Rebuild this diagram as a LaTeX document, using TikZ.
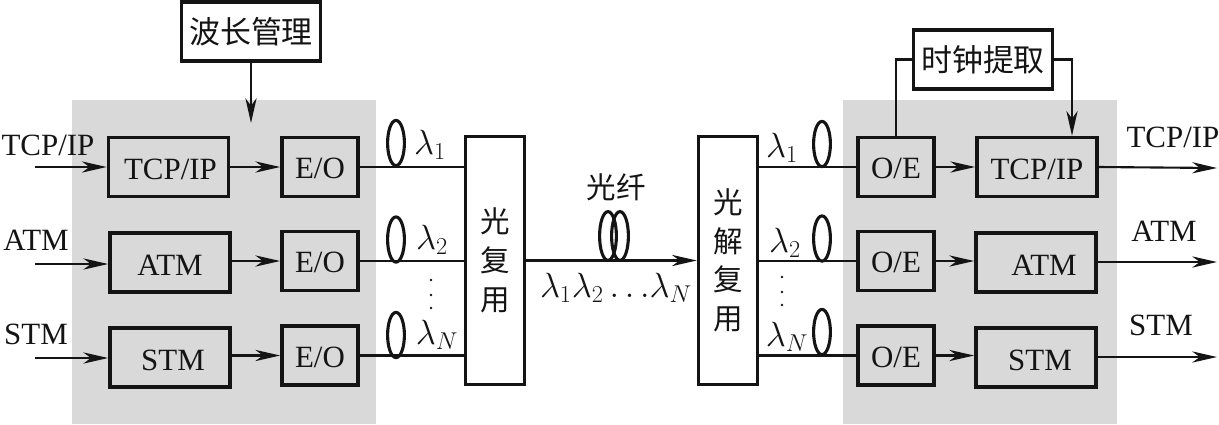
\documentclass[tikz,border=0pt]{standalone}
\usepackage{fontspec}
\setmainfont{Liberation Serif}
\newfontfamily\cjk{Noto Sans CJK SC}
\usetikzlibrary{arrows.meta, positioning, shapes.geometric}
\definecolor{panel}{RGB}{217, 217, 217}
\definecolor{inkline}{RGB}{20, 20, 20}

\begin{document}
\begin{tikzpicture}[x=0.025cm, y=-0.025cm, >={Stealth[length=0.62cm, width=0.28cm, inset=0.19cm]}, color=inkline,
  bigbox/.style={draw=inkline, line width=2.6pt, minimum width=3cm, minimum height=1.47cm, inner sep=0pt, text height=18pt, text depth=0pt, font=\fontsize{22}{26}\selectfont},
  convbox/.style={draw=inkline, line width=2.6pt, minimum width=1.9cm, minimum height=1.47cm, inner sep=0pt, text height=17pt, text depth=0pt, font=\fontsize{22}{26}\selectfont},
  ctrlbox/.style={draw=inkline, line width=2.6pt, fill=white, minimum width=3.47cm, minimum height=1.47cm, inner sep=0pt, font=\fontsize{22}{26}\selectfont\cjk},
  muxbox/.style={draw=inkline, line width=2.6pt, fill=white, minimum width=1.47cm, minimum height=6.2cm, inner sep=0pt, align=center, font=\fontsize{21}{27.5}\selectfont\cjk},
  coil/.style={draw=inkline, ellipse, line width=2.2pt, minimum width=0.42cm, minimum height=1.13cm, inner sep=0pt},
  sig/.style={->, line width=1.5pt},
  wire/.style={line width=1.5pt},
  tag/.style={inner sep=0pt, font=\fontsize{22}{26}\selectfont},
  wavelen/.style={inner sep=0pt, font=\fontsize{24}{28}\selectfont},
  dotmark/.style={fill=inkline, circle, minimum size=0.07cm, inner sep=0pt}
]
  \useasboundingbox (0,0) rectangle (1219,424);

  % Panels
  \fill[panel] (72,100) rectangle (376,424);
  \fill[panel] (843,100) rectangle (1117,424);

  % Transmit side
  \node[ctrlbox] (wave) at (251,31.5) {波长管理};
  \node[bigbox] (tcpa) at (168.5,167) {\hspace{0.1cm}TCP/IP};
  \node[bigbox] (atma) at (170,262.5) {ATM};
  \node[bigbox] (stma) at (170,357.5) {\hspace{0.15cm}STM};
  \node[convbox] (eo1) at (320,167) {E/O};
  \node[convbox] (eo2) at (320,261) {E/O};
  \node[convbox] (eo3) at (320,355.5) {E/O};

  % Multiplexers
  \node[muxbox] (mux) at (495,260.5) {光\\复\\用};
  \node[muxbox] (demux) at (728,260.5) {光\\解\\复\\用};

  % Receive side
  \node[ctrlbox] (clock) at (983,59.5) {时钟提取};
  \node[convbox] (oe1) at (896,167) {O/E};
  \node[convbox] (oe2) at (896,261) {O/E};
  \node[convbox] (oe3) at (896,355.5) {O/E};
  \node[bigbox] (tcpb) at (1037,167) {TCP/IP};
  \node[bigbox] (atmb) at (1036,262.5) {\hspace{0.4cm}ATM};
  \node[bigbox] (stmb) at (1036,357.5) {\hspace{0.2cm}STM};

  % Free ends
  \coordinate (in1) at (35,167);
  \coordinate (in2) at (35,264);
  \coordinate (in3) at (35,358);
  \coordinate (out1) at (1217,168);
  \coordinate (out2) at (1217,262);
  \coordinate (out3) at (1217,357);
  \coordinate (wavein) at (251,123);

  % Signal labels
  \node[tag] (lin1) at (48,145) {TCP/IP};
  \node[tag] (lin2) at (36,240) {ATM};
  \node[tag] (lin3) at (36,334) {STM};
  \node[tag] (lout1) at (1173,137) {TCP/IP};
  \node[tag] (lout2) at (1164,231) {ATM};
  \node[tag] (lout3) at (1161,325) {STM};

  % Fibre coils
  \node[coil] (ca1) at (396,143) {};
  \node[coil] (ca2) at (396,239.5) {};
  \node[coil] (ca3) at (396,335) {};
  \node[coil] (cb1) at (822,144) {};
  \node[coil] (cb2) at (822,238.5) {};
  \node[coil] (cb3) at (822,332) {};
  \node[coil, minimum height=1.22cm] (fa) at (608,236) {};
  \node[coil, minimum height=1.22cm] (fb) at (620,236) {};
  \node[tag, font=\fontsize{21}{24}\selectfont\cjk] (fibre) at (616,187) {光纤};

  % Wavelengths
  \node[wavelen] (la1) at (430,145) {$\lambda_1$};
  \node[wavelen] (la2) at (432,240) {$\lambda_2$};
  \node[wavelen] (la3) at (437,335) {$\lambda_N$};
  \node[wavelen] (lb1) at (782,148) {$\lambda_1$};
  \node[wavelen] (lb2) at (785,243) {$\lambda_2$};
  \node[wavelen] (lb3) at (787,337) {$\lambda_N$};
  \node[wavelen, font=\fontsize{23}{28}\selectfont] (lm) at (616,288) {$\lambda_1\lambda_2\,{.}\,{.}\,{.}\lambda_N$};
  \node[dotmark] (da1) at (431,280) {};
  \node[dotmark] (da2) at (431,295) {};
  \node[dotmark] (da3) at (431,308) {};
  \node[dotmark] (db1) at (782,277) {};
  \node[dotmark] (db2) at (782,292) {};
  \node[dotmark] (db3) at (782,305) {};

  % Connections
  \draw[sig] (wave.south) -- (wavein);
  \draw[sig] (in1) -- (tcpa.west);
  \draw[sig] (in2) -- (atma.west |- in2);
  \draw[sig] (in3) -- (stma.west |- in3);
  \draw[sig] (tcpa.east) -- (eo1.west);
  \draw[sig] (atma.east |- eo2) -- (eo2.west);
  \draw[sig] (stma.east |- eo3) -- (eo3.west);
  \draw[wire] (eo1.east) -- (mux.west |- eo1);
  \draw[wire] (eo2.east) -- (mux.west |- eo2);
  \draw[wire] (eo3.east) -- (mux.west |- eo3);
  \draw[sig] (mux.east) -- (demux.west);
  \draw[wire] (demux.east |- oe1) -- (oe1.west);
  \draw[wire] (demux.east |- oe2) -- (oe2.west);
  \draw[wire] (demux.east |- oe3) -- (oe3.west);
  \draw[sig] (oe1.east) -- (tcpb.west);
  \draw[sig] (oe2.east) -- (atmb.west |- oe2);
  \draw[sig] (oe3.east) -- (stmb.west |- oe3);
  \draw[sig] (tcpb.east) -- (out1);
  \draw[sig] (atmb.east |- out2) -- (out2);
  \draw[sig] (stmb.east |- out3) -- (out3);
  \draw[wire] (clock.west) -| (oe1.north);
  \draw[sig] (clock.east) -| ([xshift=0.875cm]tcpb.north);
\end{tikzpicture}
\end{document}
